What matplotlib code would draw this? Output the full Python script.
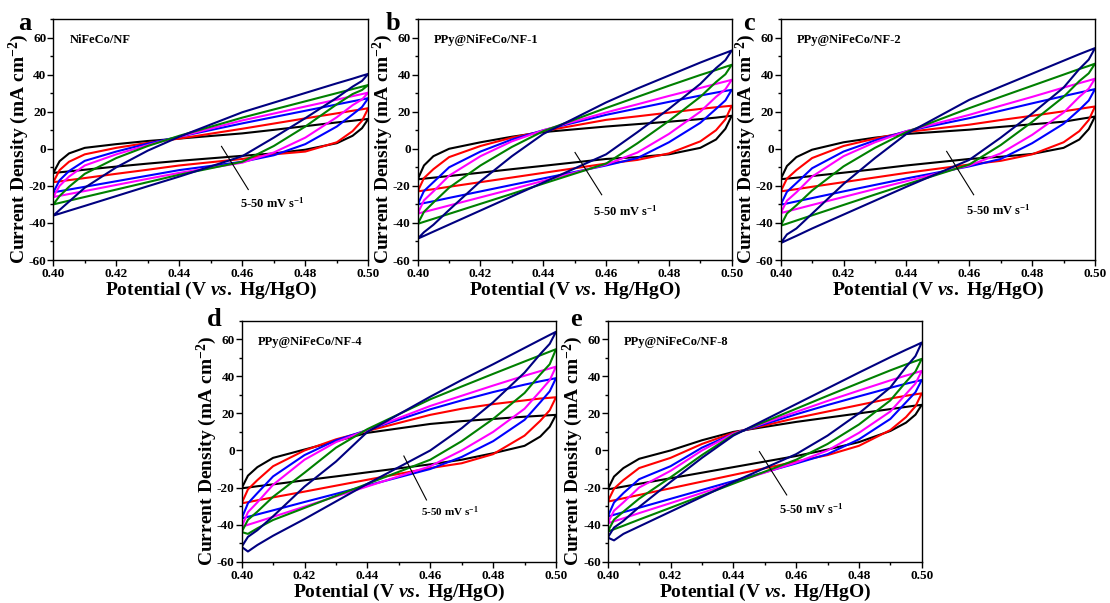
import matplotlib
matplotlib.use('Agg')
import matplotlib.pyplot as plt
from matplotlib.ticker import MultipleLocator, AutoMinorLocator, FormatStrFormatter

plt.rcParams['font.family'] = 'Liberation Serif'
plt.rcParams['font.weight'] = 'bold'
plt.rcParams['axes.unicode_minus'] = False
plt.rcParams['mathtext.fontset'] = 'custom'
plt.rcParams['mathtext.rm'] = 'Liberation Serif:bold'
plt.rcParams['mathtext.it'] = 'Liberation Serif:italic:bold'
plt.rcParams['mathtext.bf'] = 'Liberation Serif:bold'

### Potential grid (V vs. Hg/HgO), shared by all loops ###
V = [0.400, 0.402, 0.405, 0.410, 0.420, 0.430, 0.440, 0.460, 0.470, 0.480, 0.490, 0.495, 0.498, 0.500]

# scan rates 5, 10, 20, 30, 40, 50 mV/s
colors = ['black', '#ff0000', '#0000ff', '#ff00ff', '#008000', '#000080']
samples = ['NiFeCo/NF', 'PPy@NiFeCo/NF-1', 'PPy@NiFeCo/NF-2', 'PPy@NiFeCo/NF-4', 'PPy@NiFeCo/NF-8']
letters = ['a', 'b', 'c', 'd', 'e']

### current density (mA cm-2), anodic (up) and cathodic (lo) branches ###
a_up = [[-13, -6.7, -2.5, 0.5, 2.5, 4.2, 5.5, 8.3, 10.2, 12.2, 14.2, 15.1, 15.7, 16.1],
        [-18, -11.5, -7, -3, 0.5, 3.2, 5.5, 10.8, 13.6, 16.4, 19.1, 20.5, 21.3, 21.9],
        [-23.5, -17, -12, -6.5, -1.5, 2.8, 6.5, 13.7, 17.1, 20.5, 23.9, 25.6, 26.6, 27.3],
        [-26, -20, -15, -9, -3, 2, 6.5, 15.3, 19, 22.8, 26.5, 28.4, 29.5, 30.3],
        [-30, -25.5, -20.5, -13.5, -5, 1.5, 7, 16.8, 21.2, 25.6, 30, 32.2, 33.5, 34.4],
        [-36, -33, -28.5, -21, -10, -1, 6.5, 19.7, 24.9, 30.1, 35.3, 37.8, 39.4, 40.4]]
a_lo = [[-13, -12.7, -12.2, -11.3, -9.6, -8, -6.5, -3.8, -2.5, -0.5, 3, 7, 11.1, 16.1],
        [-18, -17.6, -16.9, -15.8, -13.5, -11.3, -9, -5.5, -3, -1.5, 3.5, 9.5, 15.1, 21.9],
        [-23.5, -22.9, -22, -20.5, -17.5, -14.5, -11.5, -7, -3.5, 2.5, 12, 18.5, 22.5, 27.3],
        [-26, -25.4, -24.4, -22.8, -19.5, -16.2, -13, -7.5, -2, 6, 17, 23.5, 26.6, 30.3],
        [-30, -29.2, -28, -26, -22, -18, -14, -7, 1.5, 12, 24, 29.5, 31.7, 34.4],
        [-36, -35, -33.4, -30.8, -25.5, -20.2, -15, -4, 6, 16.5, 27.5, 33.5, 36.6, 40.4]]

b_up = [[-16.5, -9, -4, 0, 3.5, 6.5, 9, 12, 13.3, 14.6, 16, 16.8, 17.4, 17.8],
        [-23, -15.8, -11, -4.5, 1.5, 6, 9.5, 15.6, 17.5, 19.5, 21.5, 22.4, 22.9, 23.2],
        [-30, -22.8, -18, -10, -1.5, 5, 10, 18.3, 21.8, 25.3, 28.7, 30.3, 31.2, 31.8],
        [-35, -27.8, -23, -14.5, -4, 4, 10, 19.6, 24, 28.5, 32.8, 35, 36.3, 37.2],
        [-40.5, -34, -29, -21, -9, 1, 9.5, 22, 28, 34, 39.8, 42.5, 44.2, 45.3],
        [-48.5, -45, -41, -33, -17.5, -4, 8, 25, 32.5, 39.5, 46.5, 49.8, 51.7, 53]]
b_lo = [[-16.5, -16.1, -15.6, -14.7, -12.9, -11, -9.2, -5.5, -4.5, -3, 0.5, 5, 10.8, 17.8],
        [-23, -22.5, -21.8, -20.5, -18, -15.5, -13, -8, -6, -2.5, 4, 10, 15.9, 23.2],
        [-30, -29.3, -28.3, -26.5, -23, -19.5, -16, -9, -5, 3.5, 14, 21.5, 26.1, 31.8],
        [-35, -34.1, -32.8, -30.6, -26.2, -21.8, -17.3, -8.5, -2, 8, 20, 28, 32.1, 37.2],
        [-40.5, -39.4, -37.8, -35.1, -29.7, -24.3, -18.8, -8, 3, 15, 28, 36, 40.2, 45.3],
        [-48.5, -47, -44.7, -40.9, -33.3, -25.7, -18.2, -3, 9, 21.5, 35, 43.5, 47.8, 53]]

c_up = [[-16.4, -9.3, -4.5, -0.5, 3.5, 6, 8, 10.3, 11.8, 13.2, 14.6, 16, 16.8, 17.4],
        [-23, -16.1, -11.5, -5, 1.5, 5.5, 9, 13, 15.5, 17.8, 20.2, 21.5, 22.3, 22.8],
        [-30.2, -23.2, -18.5, -10.5, -1.5, 4.5, 9.5, 16.5, 20.5, 24.5, 28.4, 30.3, 31.4, 32.2],
        [-34.7, -28, -23.5, -15, -4, 3.5, 9.5, 18.3, 23.2, 28, 33, 35.4, 36.8, 37.8],
        [-41.5, -34.9, -30.5, -22.5, -9.5, 0.5, 9, 21.9, 28, 34, 40, 43, 44.7, 45.9],
        [-50.9, -46.2, -43, -35, -19, -5, 8, 26.4, 33.5, 40.5, 47.5, 51, 53, 54.3]]
c_lo = [[-16.4, -16.1, -15.6, -14.7, -12.9, -11, -9, -5.5, -4.3, -2.8, 0.5, 5, 10.6, 17.4],
        [-23, -22.5, -21.8, -20.5, -18, -15.5, -13, -8.5, -6.5, -3, 3.5, 9.5, 15.5, 22.8],
        [-30.2, -29.5, -28.4, -26.6, -23, -19.5, -16, -9.5, -5.5, 3, 13.5, 21, 26, 32.2],
        [-34.7, -33.8, -32.5, -30.3, -26, -21.7, -17.5, -9, -2.5, 7.5, 19.5, 28, 32.4, 37.8],
        [-41.5, -40.4, -38.7, -35.9, -30.3, -24.7, -19.2, -8.5, 2, 14.5, 28, 36.5, 40.7, 45.9],
        [-50.9, -49.3, -47, -43, -35.5, -28, -20.5, -6, 6, 19, 33, 43, 48.1, 54.3]]

d_up = [[-20.4, -13.6, -9, -4, 0.5, 5, 9.5, 14.3, 15.8, 17, 18.2, 18.7, 19, 19.2],
        [-28.5, -21, -16, -8.5, 0, 6, 10.5, 19.2, 22.5, 25, 27, 28, 28.4, 28.7],
        [-36.7, -28.5, -23, -14, -2.5, 5.5, 11, 22.2, 27, 31.5, 35.5, 37.3, 38.3, 39],
        [-41.2, -33.3, -28, -18.5, -5, 4.5, 11, 24, 29.5, 35, 40.3, 42.8, 44.2, 45.2],
        [-44, -37.4, -33, -25, -12, 1.5, 11.5, 27.6, 34.5, 41.3, 48, 51.3, 53.3, 54.6],
        [-52, -46.6, -43, -35.5, -19.5, -6, 10, 29, 38, 46.5, 55.3, 59.7, 62.3, 64]]
d_lo = [[-20.4, -20, -19.3, -18.3, -16.1, -14, -11.8, -7.5, -5, -1.5, 2.5, 7.5, 12.8, 19.2],
        [-28.5, -27.9, -26.9, -25.3, -22.2, -19, -15.8, -9.5, -6.9, -2, 8, 16, 21.7, 28.7],
        [-36.7, -35.8, -34.5, -32.3, -27.8, -23.4, -18.9, -10, -3.5, 5, 16.5, 26, 31.9, 39],
        [-41.2, -40.1, -38.5, -35.8, -30.3, -24.8, -19.4, -8.5, 0, 10, 22.5, 32, 37.9, 45.2],
        [-44, -45, -42, -37.5, -31, -24.5, -18, -5, 5, 17, 31, 41, 46.5, 54.6],
        [-52, -54.5, -51, -46, -37, -27.5, -18, 0, 12, 26, 42, 52, 57.5, 64]]

e_up = [[-21, -14.1, -9.5, -4.5, 0, 5.5, 10, 15.4, 17.7, 20, 22.3, 23.5, 24.2, 24.6],
        [-27.6, -20.6, -16, -9.5, -4, 3.5, 9.5, 17.5, 21, 24.5, 28, 29.5, 30.3, 30.8],
        [-35.7, -28.1, -23, -15.5, -8.5, 1.5, 9, 19.5, 24.5, 29.2, 33.8, 36, 37.2, 38],
        [-39.3, -32.5, -28, -20, -11, 0, 9, 20.8, 26.7, 32.3, 37.8, 40.4, 41.9, 42.9],
        [-43.8, -37.3, -33, -26, -14.5, -2.5, 8.5, 22.5, 29.5, 36.4, 43.2, 46.4, 48.2, 49.4],
        [-47, -41.6, -38, -30.5, -17, -4, 8, 25, 33.5, 42, 50.3, 54.3, 56.6, 58.2]]
e_lo = [[-21, -20.4, -19.5, -18, -15, -12, -9, -3, 0.5, 4.5, 10.5, 15, 19.3, 24.6],
        [-27.6, -26.9, -25.8, -24, -20.4, -16.8, -13.2, -6, -2.5, 2.5, 11, 18, 23.8, 30.8],
        [-35.7, -34.7, -33.3, -30.9, -26.1, -21.3, -16.5, -7, -2, 6, 17, 26, 31.4, 38],
        [-39.3, -38.2, -36.6, -33.8, -28.4, -22.9, -17.4, -6.5, 0, 9.5, 21, 30.5, 36.1, 42.9],
        [-43.8, -42.5, -40.6, -37.3, -30.9, -24.4, -17.9, -5, 3.5, 14, 27, 37, 42.6, 49.4],
        [-47, -48.5, -45, -41, -33, -25, -17, -2, 8, 20, 34, 45, 50.9, 58.2]]

ups = [a_up, b_up, c_up, d_up, e_up]
los = [a_lo, b_lo, c_lo, d_lo, e_lo]

# axes boxes [left, bottom, width, height] in figure fraction
boxes = [[0.0480, 0.5688, 0.2838, 0.3997],
         [0.3763, 0.5688, 0.2829, 0.3997],
         [0.7033, 0.5688, 0.2832, 0.3997],
         [0.2177, 0.0685, 0.2832, 0.3997],
         [0.5475, 0.0685, 0.2829, 0.3997]]
# panel letter positions (pixels from top-left)
letter_pos = [(25, 24), (393, 24), (749, 24), (214, 319), (576, 319)]
# pointer line (x0, y0, x1, y1) and label anchor for the scan-rate note
notes = [(0.4534, 1.3, 0.4619, -22, 0.4593, -29.2),
         (0.4501, -2, 0.4586, -24.8, 0.4559, -33.5),
         (0.4528, -1.4, 0.4614, -24.8, 0.4590, -33),
         (0.4516, -3, 0.4588, -26.7, 0.4572, -33),
         (0.4483, -0.6, 0.4570, -24, 0.4544, -31.8)]

fig = plt.figure(figsize=(11.1, 6.03), dpi=100)

for k in range(5):
    ax = fig.add_axes(boxes[k])
    for up, lo, c in zip(ups[k], los[k], colors):
        ax.plot(V + V[::-1], up + lo[::-1], color=c, lw=1.5, solid_joinstyle='round')
    ax.set_xlim(0.40, 0.50)
    ax.set_ylim(-60, 70)
    ax.xaxis.set_major_locator(MultipleLocator(0.02))
    ax.xaxis.set_minor_locator(AutoMinorLocator(2))
    ax.xaxis.set_major_formatter(FormatStrFormatter('%.2f'))
    ax.yaxis.set_major_locator(MultipleLocator(20))
    ax.yaxis.set_minor_locator(AutoMinorLocator(2))
    ax.tick_params(which='major', direction='out', length=4, width=1, labelsize=9.5, pad=2)
    ax.tick_params(axis='y', which='major', pad=1)
    ax.tick_params(which='minor', direction='out', length=2, width=1)
    for s in ax.spines.values():
        s.set_linewidth(1.0)
    ax.set_xlabel('Potential (V $vs.$ Hg/HgO)', fontsize=14, fontweight='bold', labelpad=0)
    ax.set_ylabel('Current Density (mA cm$^{-2}$)', fontsize=14, fontweight='bold')
    ax.yaxis.set_label_coords(-0.072, 0.462)
    ax.text(0.052, 0.913, samples[k], transform=ax.transAxes, fontsize=9,
            fontweight='bold', ha='left', va='center')
    x0, y0, x1, y1, tx, ty = notes[k]
    ax.plot([x0, x1], [y0, y1], color='black', lw=0.8)
    ax.text(tx, ty, '5-50 mV s$^{-1}$', fontsize=8 if k == 3 else 9,
            fontweight='bold', ha='left', va='center')
    px, py = letter_pos[k]
    fig.text(px / 1110, 1 - py / 603, letters[k], fontsize=19, fontweight='bold',
             ha='center', va='center')

plt.savefig('out.png', dpi=100)
